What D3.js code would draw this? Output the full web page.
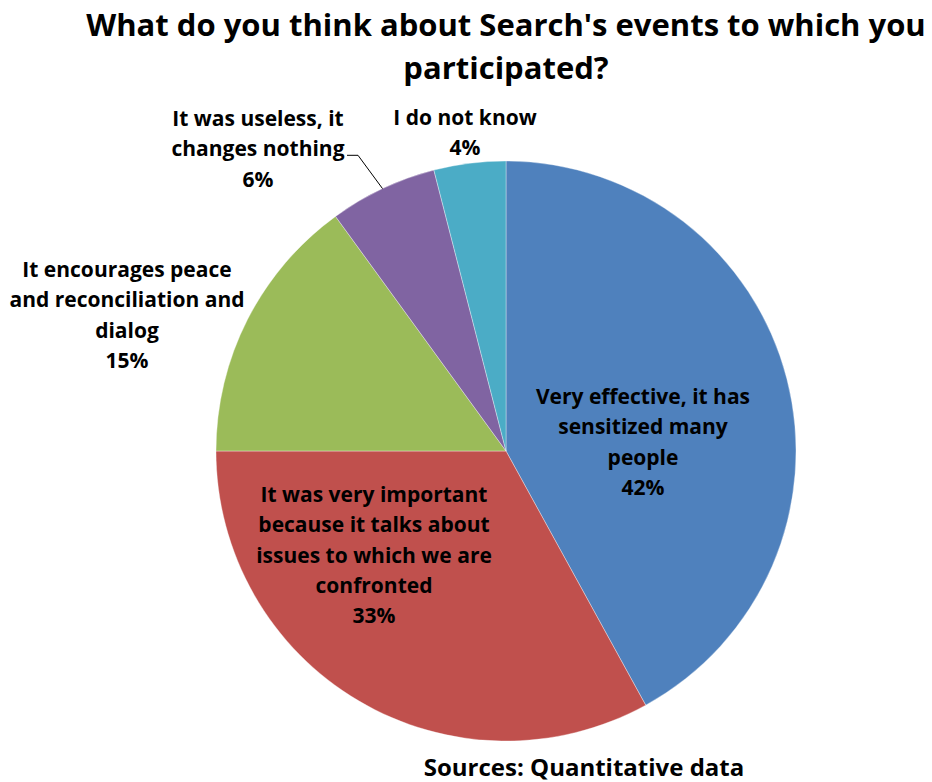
<!DOCTYPE html>
<html lang="en">
<head>
    <meta charset="UTF-8" />
    <title>Search's events pie</title>
    <script src="https://d3js.org/d3.v7.min.js"></script>
    <style>
        html, body { margin: 0; padding: 0; background: #fff; }
        svg text { font-family: "Open Sans", Lato, sans-serif; font-weight: bold; fill: #000; }
    </style>
</head>
<body>
    <div id="viz"></div>
    <script>
        // --- Data ---
        const categories = [
            "Very effective, it has\nsensitized many\npeople",
            "It was very important\nbecause it talks about\nissues to which we are\nconfronted",
            "It encourages peace\nand reconciliation and\ndialog",
            "It was useless, it\nchanges nothing",
            "I do not know"
        ];
        const values = [42, 33, 15, 6, 4];
        const colors = ["#4F81BD", "#C0504D", "#9BBB59", "#8064A2", "#4BACC6"];
        const titleLines = ["What do you think about Search's events to which you", "participated?"];
        const sourceText = "Sources: Quantitative data";

        // label anchors relative to pie centre (x = centre of text block, y = first baseline)
        const labelLayout = [
            { dx: 137, dy: -47 },
            { dx: -132, dy: 51 },
            { dx: -379, dy: -174 },
            { dx: -248, dy: -325 },
            { dx: -41, dy: -326 }
        ];

        const width = 932, height = 782;
        const cx = 506, cy = 451, radius = 290;
        const lineH = 30.3;

        const svg = d3.select("#viz").append("svg")
            .attr("width", width)
            .attr("height", height);

        // Title
        svg.append("text")
            .attr("text-anchor", "middle")
            .style("font-size", "31px")
            .selectAll("tspan")
            .data(titleLines)
            .join("tspan")
            .attr("x", 506)
            .attr("y", (d, i) => 36 + i * 43)
            .text(d => d);

        const pie = d3.pie().sort(null).value(d => d);
        const arcs = pie(values);
        const arc = d3.arc().innerRadius(0).outerRadius(radius);

        const g = svg.append("g").attr("transform", `translate(${cx},${cy})`);

        g.selectAll("path")
            .data(arcs)
            .join("path")
            .attr("d", arc)
            .attr("fill", (d, i) => colors[i])
            .attr("stroke", "rgba(255,255,255,0.5)")
            .attr("stroke-width", 0.7);

        // Leader line for the small purple slice
        const purple = arcs[3];
        const mid = (purple.startAngle + purple.endAngle) / 2;
        const edge = [radius * Math.sin(mid), -radius * Math.cos(mid)];
        const lay = labelLayout[3];
        const lineY = lay.dy + lineH - 1;
        g.append("polyline")
            .attr("points", [[-159, lineY], [-148, lineY], edge].map(p => p.join(",")).join(" "))
            .attr("fill", "none")
            .attr("stroke", "#000")
            .attr("stroke-width", 1);

        // Labels
        arcs.forEach((a, i) => {
            const lines = categories[i].split("\n").concat([values[i] + "%"]);
            const L = labelLayout[i];
            g.append("text")
                .attr("text-anchor", "middle")
                .style("font-size", "21px")
                .selectAll("tspan")
                .data(lines)
                .join("tspan")
                .attr("x", L.dx)
                .attr("y", (d, j) => L.dy + j * lineH)
                .text(d => d);
        });

        // Source
        svg.append("text")
            .attr("x", 584)
            .attr("y", 776)
            .attr("text-anchor", "middle")
            .style("font-size", "24px")
            .text(sourceText);
    </script>
</body>
</html>
